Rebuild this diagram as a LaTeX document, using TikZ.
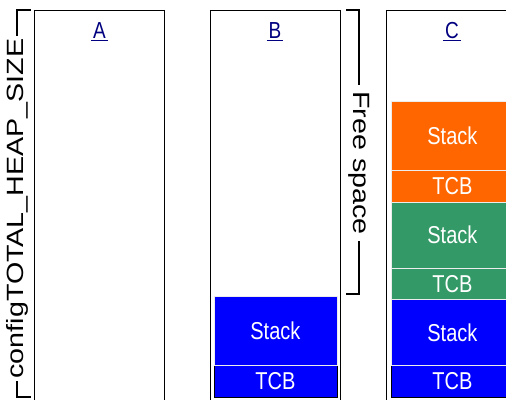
\documentclass[tikz,border=0pt]{standalone}
\usepackage{fontspec}
\setmainfont{Liberation Sans}
\definecolor{navyA}{RGB}{0,0,128}
\definecolor{blkblue}{RGB}{0,0,255}
\definecolor{blkorange}{RGB}{255,102,0}
\definecolor{blkgreen}{RGB}{51,153,102}
\newcommand{\tallt}[1]{\scalebox{1}[1.22]{#1}}
\newcommand{\longt}[1]{\scalebox{1.22}[1]{#1}}
\begin{document}
\begin{tikzpicture}[x=1pt,y=-1pt,
  colbox/.style={draw=black,line width=1pt,fill=white},
  blk/.style={anchor=north west,inner sep=0pt,minimum width=123pt,text=white,font=\fontsize{20}{24}\selectfont,draw=white!85!gray,line width=0.8pt},
  tcbblk/.style={blk,draw=black},
  collabel/.style={text=navyA,font=\fontsize{19}{22}\selectfont,inner sep=1pt},
  brk/.style={line width=2.3pt,line cap=butt},
  brklabel/.style={fill=white,inner xsep=3pt,inner ysep=4pt,font=\fontsize{23.5}{28}\selectfont}]
\useasboundingbox (0,0) rectangle (506,399);
\clip (0,0) rectangle (506,399);
% columns
\draw[colbox] (34.5,10) rectangle (164.5,420);
\draw[colbox] (210.5,10) rectangle (340,420);
\draw[colbox] (386.5,10) rectangle (530,420);
% column labels
\node[collabel] (lA) at (99.5,30.5) {\tallt{A}};
\node[collabel] (lB) at (275,30.5) {\tallt{B}};
\node[collabel] (lC) at (452,30.5) {\tallt{C}};
\foreach \n in {lA,lB,lC}{
  \draw[navyA,line width=0.9pt] ([xshift=-0.5pt,yshift=-0.5pt]\n.south west) -- ([xshift=0.5pt,yshift=-0.5pt]\n.south east);
}
% B blocks
\node[tcbblk,fill=blkblue,minimum height=31.5pt] (bT) at (213.5,365) {\tallt{TCB}};
\node[blk,fill=blkblue,minimum height=69pt] (bS) at (213.5,296) {\tallt{Stack}};
% C blocks
\node[tcbblk,fill=blkblue,minimum height=31.5pt] (cT3) at (390.5,365) {\tallt{TCB}};
\node[blk,fill=blkblue,minimum height=66pt] (cS3) at (390.5,299) {\tallt{Stack}};
\node[blk,fill=blkgreen,minimum height=31pt] (cT2) at (390.5,268) {\tallt{TCB}};
\node[blk,fill=blkgreen,minimum height=66.5pt] (cS2) at (390.5,201.5) {\tallt{Stack}};
\node[blk,fill=blkorange,minimum height=31.5pt] (cT1) at (390.5,170) {\tallt{TCB}};
\node[blk,fill=blkorange,minimum height=69pt] (cS1) at (390.5,101) {\tallt{Stack}};
% left bracket
\coordinate (l1) at (30.5,10);
\coordinate (l2) at (17,10);
\coordinate (l3) at (17,397);
\coordinate (l4) at (30.5,397);
\draw[brk] (l1) -- (l2) -- (l3) -- (l4);
\node[brklabel,rotate=90] (heap) at (17,208.5) {\longt{configTOTAL\_HEAP\_SIZE}};
% right bracket
\coordinate (r1) at (346,10);
\coordinate (r2) at (359,10);
\coordinate (r3) at (359,294);
\coordinate (r4) at (346,294);
\draw[brk] (r1) -- (r2) -- (r3) -- (r4);
\node[brklabel,rotate=-90,inner xsep=6pt] (free) at (359,163) {\longt{Free space}};
\end{tikzpicture}
\end{document}
